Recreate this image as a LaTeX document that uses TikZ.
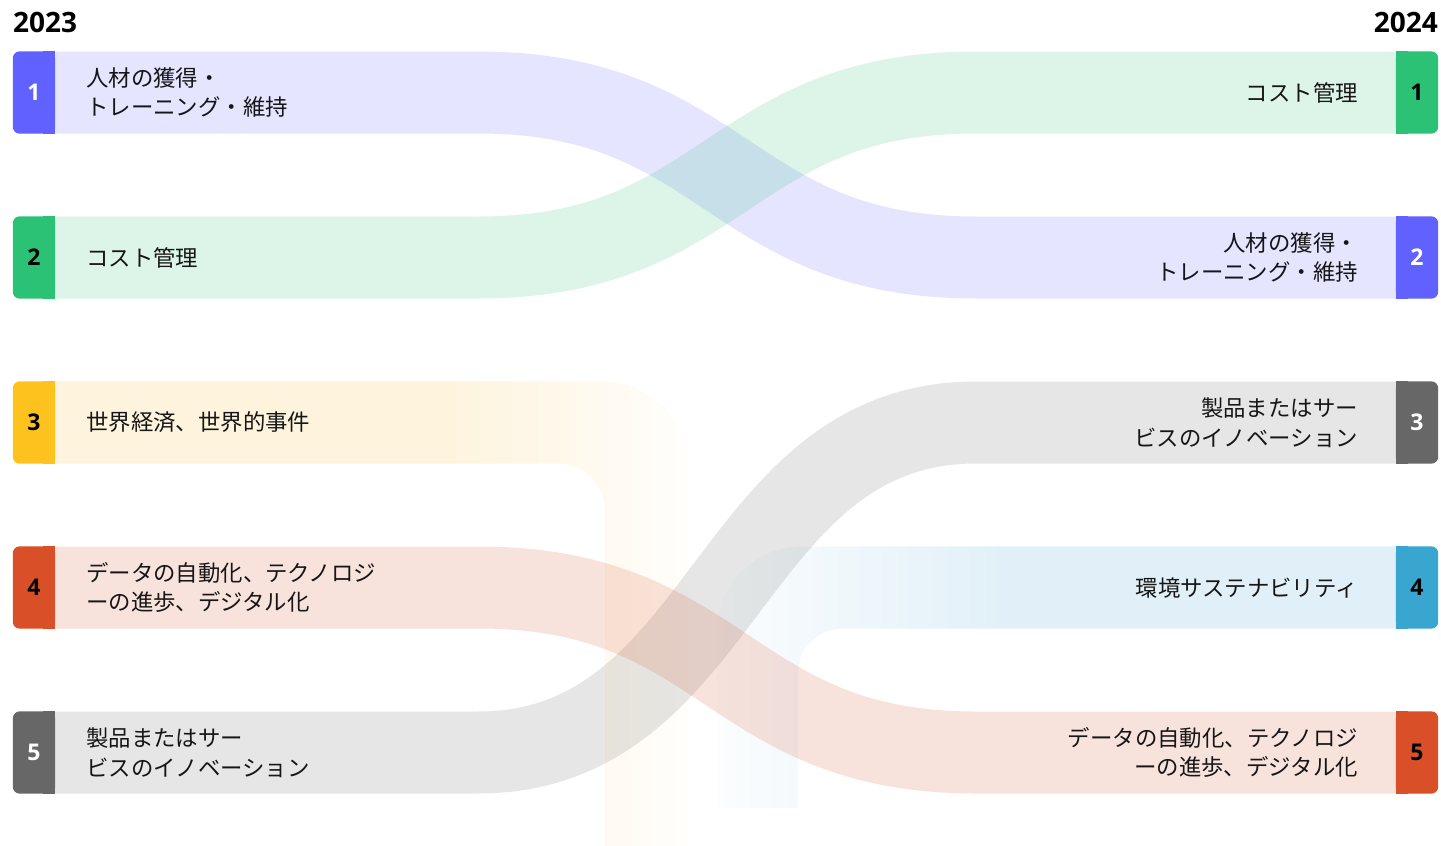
\documentclass[tikz,border=0pt]{standalone}
\usepackage{fontspec}
\setmainfont{Open Sans}
\newfontfamily\jp{Noto Sans CJK JP}
\usetikzlibrary{calc}
\definecolor{cpur}{HTML}{6161FF}
\definecolor{cgrn}{HTML}{2BC275}
\definecolor{cyel}{HTML}{FEC21F}
\definecolor{cred}{HTML}{D94F27}
\definecolor{cgry}{HTML}{676767}
\definecolor{cblu}{HTML}{38A6CF}
\definecolor{ink}{HTML}{161616}
\definecolor{ybl}{HTML}{FEF3DC}
\definecolor{yend}{HTML}{FFFEFB}
\definecolor{bbl}{HTML}{E1F0F8}
\definecolor{bend}{HTML}{FBFDFE}
\pgfdeclarehorizontalshading{yfade}{100bp}{color(0bp)=(ybl); color(25bp)=(ybl); color(55bp)=(ybl); color(75bp)=(yend); color(100bp)=(yend)}
\pgfdeclarehorizontalshading{bfade}{100bp}{color(0bp)=(bend); color(25bp)=(bend); color(46bp)=(bbl); color(75bp)=(bbl); color(100bp)=(bbl)}
\begin{document}
\begin{tikzpicture}[x=1pt,y=-1pt,
  box/.style={minimum width=42pt, minimum height=82pt, inner sep=0pt, rounded corners=7pt},
  num/.style={font=\bfseries\fontsize{23}{23}\selectfont, inner sep=0pt},
  band/.style={line width=82pt, draw opacity=0.16},
  lab/.style={font=\jp\fontsize{22.4}{29.5}\selectfont, text=ink, inner sep=0pt},
  year/.style={font=\bfseries\fontsize{28}{28}\selectfont, text=black, inner sep=0pt}]
\useasboundingbox (0,0) rectangle (1441,846);
\fill[white] (0,0) rectangle (1441,846);
% box anchors
\node[box] (l1) at (34,92.5) {};
\node[box] (l2) at (34,257.5) {};
\node[box] (l3) at (34,422.5) {};
\node[box] (l4) at (34,587.5) {};
\node[box] (l5) at (34,752.5) {};
\node[box] (r1) at (1417,92.5) {};
\node[box] (r2) at (1417,257.5) {};
\node[box] (r3) at (1417,422.5) {};
\node[box] (r4) at (1417,587.5) {};
\node[box] (r5) at (1417,752.5) {};
\coordinate (xa) at (478,0);
\coordinate (xm) at (727,0);
\coordinate (xb) at (976,0);
% fading bands
\shade[shading=yfade] (l3.north east) -- (602,381.5) .. controls (649,381.5) and (687,420) .. (687,467) -- (687,846) -- (605,846) -- (605,511) .. controls (605,484.5) and (583.5,463.5) .. (557,463.5) -- (l3.south east) -- cycle;
\shade[shading=bfade] (r4.north west) -- (802,546.5) .. controls (755,546.5) and (717,585) .. (717,632) -- (717,808) -- (798,808) -- (798,673) .. controls (798,648) and (818,628.5) .. (843,628.5) -- (r4.south west) -- cycle;
% links
\draw[band, cpur] (l1.east) -- (l1.east -| xa) .. controls (l1.east -| xm) and (r2.west -| xm) .. (r2.west -| xb) -- (r2.west);
\draw[band, cgrn] (l2.east) -- (l2.east -| xa) .. controls (l2.east -| xm) and (r1.west -| xm) .. (r1.west -| xb) -- (r1.west);
\draw[band, cgry] (l5.east) -- (l5.east -| xa) .. controls (l5.east -| xm) and (r3.west -| xm) .. (r3.west -| xb) -- (r3.west);
\draw[band, cred] (l4.east) -- (l4.east -| xa) .. controls (l4.east -| xm) and (r5.west -| xm) .. (r5.west -| xb) -- (r5.west);
% boxes
\foreach \n/\c in {l1/cpur,l2/cgrn,l3/cyel,l4/cred,l5/cgry}{
  \fill[\c, rounded corners=7pt] (\n.north west) rectangle (\n.south east);
  \fill[\c] (\n.north east) rectangle ($(\n.south east)+(-12,0)$);
}
\foreach \n/\c in {r1/cgrn,r2/cpur,r3/cgry,r4/cblu,r5/cred}{
  \fill[\c, rounded corners=7pt] (\n.north west) rectangle (\n.south east);
  \fill[\c] (\n.north west) rectangle ($(\n.south west)+(12,0)$);
}
% numbers
\node[num, text=white] at (l1) {1};
\node[num, text=black] at (l2) {2};
\node[num, text=black] at (l3) {3};
\node[num, text=black] at (l4) {4};
\node[num, text=white] at (l5) {5};
\node[num, text=black] at (r1) {1};
\node[num, text=white] at (r2) {2};
\node[num, text=white] at (r3) {3};
\node[num, text=black] at (r4) {4};
\node[num, text=black] at (r5) {5};
% years
\node[year, anchor=west] (y23) at (13,22) {2023};
\node[year, anchor=east] (y24) at (1438,22) {2024};
% labels
\node[lab, anchor=west, align=left] (t1) at (86,92.5) {人材の獲得・\\トレーニング・維持};
\node[lab, anchor=west, align=left] (t2) at (86,257.5) {コスト管理};
\node[lab, anchor=west, align=left] (t3) at (86,422.5) {世界経済、世界的事件};
\node[lab, anchor=west, align=left] (t4) at (86,587.5) {データの自動化、テクノロジ\\ーの進歩、デジタル化};
\node[lab, anchor=west, align=left] (t5) at (86,752.5) {製品またはサー\\ビスのイノベーション};
\node[lab, anchor=east, align=right] (s1) at (1358,92.5) {コスト管理};
\node[lab, anchor=east, align=right] (s2) at (1358,257.5) {人材の獲得・\\トレーニング・維持};
\node[lab, anchor=east, align=right] (s3) at (1358,422.5) {製品またはサー\\ビスのイノベーション};
\node[lab, anchor=east, align=right] (s4) at (1358,587.5) {環境サステナビリティ};
\node[lab, anchor=east, align=right] (s5) at (1358,752.5) {データの自動化、テクノロジ\\ーの進歩、デジタル化};
\end{tikzpicture}
\end{document}
